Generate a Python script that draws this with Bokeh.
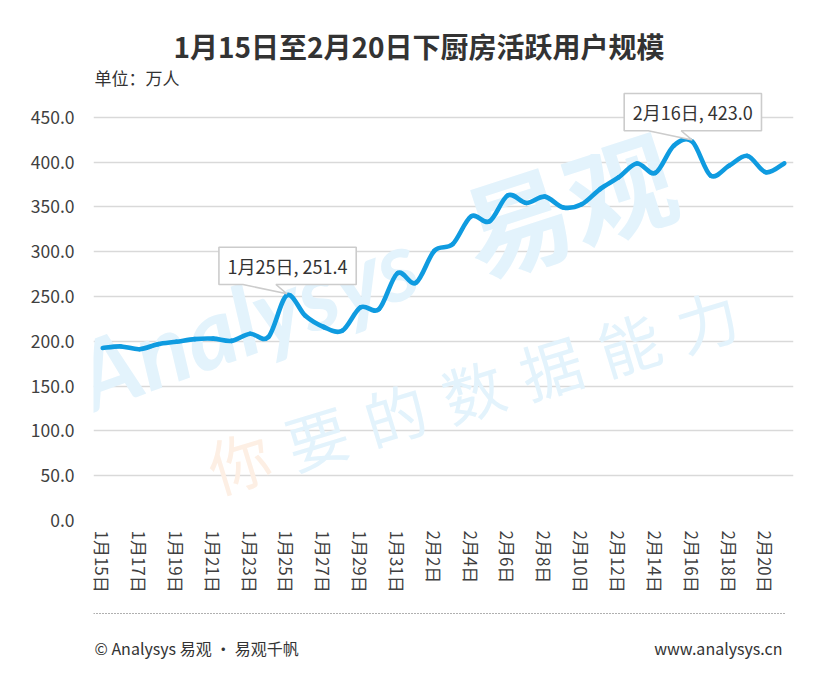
from bokeh.plotting import figure
from bokeh.layouts import column
from bokeh.models import Range1d, FixedTicker, PrintfTickFormatter, Label
from bokeh.core.properties import value
from bokeh.embed import file_html
from bokeh.resources import INLINE

# ---------------- data ----------------
dates = ["1月15日", "1月16日", "1月17日", "1月18日", "1月19日", "1月20日", "1月21日",
         "1月22日", "1月23日", "1月24日", "1月25日", "1月26日", "1月27日", "1月28日",
         "1月29日", "1月30日", "1月31日", "2月1日", "2月2日", "2月3日", "2月4日",
         "2月5日", "2月6日", "2月7日", "2月8日", "2月9日", "2月10日", "2月11日",
         "2月12日", "2月13日", "2月14日", "2月15日", "2月16日", "2月17日", "2月18日",
         "2月19日", "2月20日", "2月21日"]
users = [192.6, 194.3, 191.2, 196.8, 199.5, 202.5, 203.0, 200.5, 208.5, 205.0,
         251.4, 228.5, 216.0, 211.8, 238.0, 236.0, 276.0, 265.3, 301.0, 308.5,
         339.5, 334.0, 363.0, 354.5, 361.5, 349.5, 353.0, 370.0, 383.0, 398.5,
         388.0, 418.4, 423.0, 385.0, 396.0, 407.0, 388.7, 398.7]
y_ticks = [0, 50, 100, 150, 200, 250, 300, 350, 400, 450]
x_tick_step = 2
callout_idx = [10, 32]
title_text = "1月15日至2月20日下厨房活跃用户规模"
unit_text = "单位：万人"
footer_left = "© Analysys 易观 · 易观千帆"
footer_right = "www.analysys.cn"

# ---------------- layout ----------------
W = 819
HEAD_H, FOOT_H = 90, 55
ML, MR, MB = 93, 26, 85
FW, FH = W - ML - MR, 430
MAIN_H = FH + MB
n = len(users)
XR = (-0.5, n - 0.5)
YR = (0, 480)
kx = FW / (XR[1] - XR[0])
ky = FH / (YR[1] - YR[0])
# header/footer frames get aligned with the chart frame, so map their x range to page pixels
STRIP_X = (ML, W - MR)

CJK = "Noto Sans CJK SC"
LINE_COLOR = "#0f9be0"
TXT = "#404040"


def bare(fig):
    fig.outline_line_color = None
    fig.xgrid.grid_line_color = None
    fig.ygrid.grid_line_color = None
    fig.background_fill_color = "white"
    fig.border_fill_color = "white"
    return fig


# ---------------- header ----------------
head = bare(figure(width=W, height=HEAD_H, x_range=Range1d(*STRIP_X), y_range=Range1d(0, HEAD_H),
                   min_border=0, x_axis_location=None, y_axis_location=None,
                   output_backend="svg", toolbar_location=None))
head.text(x=[418.5], y=[HEAD_H - 45], text=[title_text], text_font=value(CJK),
          text_font_style="bold", text_font_size="28px", text_align="center",
          text_baseline="middle", text_color="#333333")
head.text(x=[STRIP_X[0] + 1], y=[HEAD_H - 77], text=[unit_text], text_font=value(CJK),
          text_font_size="17px", text_align="left", text_baseline="middle",
          text_color="#333333")

# ---------------- main chart ----------------
p = bare(figure(width=W, height=MAIN_H, x_range=Range1d(*XR), y_range=Range1d(*YR),
                min_border_left=ML, min_border_right=MR, min_border_top=0, min_border_bottom=MB,
                output_backend="svg", toolbar_location=None))

p.yaxis.ticker = FixedTicker(ticks=y_ticks)
p.yaxis.formatter = PrintfTickFormatter(format="%.1f")
p.yaxis.axis_line_color = None
p.yaxis.major_tick_line_color = None
p.yaxis.minor_tick_line_color = None
p.yaxis.major_tick_out = 0
p.yaxis.major_tick_in = 0
p.yaxis.major_label_standoff = 19
p.yaxis.major_label_text_font = CJK
p.yaxis.major_label_text_font_size = "17.5px"
p.yaxis.major_label_text_color = TXT

xt = list(range(0, n, x_tick_step))
p.xaxis.ticker = FixedTicker(ticks=xt)
p.xaxis.major_label_overrides = {i: dates[i] for i in xt}
p.xaxis.major_label_orientation = "vertical"
p.xaxis.axis_line_color = None
p.xaxis.major_tick_line_color = None
p.xaxis.minor_tick_line_color = None
p.xaxis.major_tick_out = 0
p.xaxis.major_tick_in = 0
p.xaxis.major_label_standoff = 10
p.xaxis.major_label_text_font = CJK
p.xaxis.major_label_text_font_size = "17px"
p.xaxis.major_label_text_color = TXT

p.ygrid.ticker = FixedTicker(ticks=y_ticks)
p.ygrid.grid_line_color = "#d9d9d9"
p.ygrid.grid_line_width = 1.6

# watermark (screen units are relative to the frame's bottom-left corner)
FRAME_X0, FRAME_Y0 = ML, HEAD_H + FH


def fx(ref_x):
    return ref_x - FRAME_X0


def fy(ref_y):
    return FRAME_Y0 - ref_y


wm_blue = "#e3f3fc"
p.add_layout(Label(x=fx(97), y=fy(432), x_units="screen", y_units="screen", text="Analysys",
                   angle=20, angle_units="deg", text_font="Lato", text_font_style="bold italic",
                   text_font_size="96px", text_color=wm_blue, level="underlay"))
p.add_layout(Label(x=fx(488), y=fy(308), x_units="screen", y_units="screen", text="易观",
                   angle=18, angle_units="deg", text_font=CJK, text_font_style="bold",
                   text_font_size="108px", text_color=wm_blue, level="underlay"))
slogan = "你要的数据能力"
for k, ch in enumerate(slogan):
    p.add_layout(Label(x=fx(238 + 78 * k), y=fy(459 - 23.5 * k), x_units="screen", y_units="screen",
                       text=ch, angle=17, angle_units="deg", text_font=CJK,
                       text_font_size="62px", text_align="center", text_baseline="middle",
                       text_color="#fdefe4" if k == 0 else wm_blue, level="underlay"))

# smoothed line (cubic Bezier segments through the data points)
xs = list(range(n))


def pt(i):
    i = max(0, min(n - 1, i))
    return xs[i], users[i]


bx0, by0, bx1, by1, bcx0, bcy0, bcx1, bcy1 = ([] for _ in range(8))
for i in range(n - 1):
    xa, ya = pt(i - 1)
    xb, yb = pt(i)
    xc, yc = pt(i + 1)
    xd, yd = pt(i + 2)
    bx0.append(xb); by0.append(yb); bx1.append(xc); by1.append(yc)
    bcx0.append(xb + (xc - xa) / 6); bcy0.append(yb + (yc - ya) / 6)
    bcx1.append(xc - (xd - xb) / 6); bcy1.append(yc - (yd - yb) / 6)

p.bezier(x0=bx0, y0=by0, x1=bx1, y1=by1, cx0=bcx0, cy0=bcy0, cx1=bcx1, cy1=bcy1,
         line_color=LINE_COLOR, line_width=4.6, line_cap="round")

# callouts
pxs, pys, tx, ty, tt = [], [], [], [], []
for i in callout_idx:
    tipx, tipy = xs[i], users[i] + 1.5 / ky
    L, R = xs[i] - 68 / kx, xs[i] + 69.3 / kx
    B = tipy + 9.3 / ky
    T = B + 37.3 / ky
    b1, b2 = xs[i] - 44 / kx, xs[i] - 11 / kx
    pxs.append([L, b1, tipx, b2, R, R, L])
    pys.append([B, B, tipy, B, B, T, T])
    tx.append((L + R) / 2); ty.append((B + T) / 2)
    tt.append(f"{dates[i]}, {users[i]:.1f}")

p.patches(pxs, pys, fill_color="white", line_color="#cccccc", line_width=1.6)
p.text(x=tx, y=ty, text=tt, text_font=value(CJK), text_font_size="18px",
       text_align="center", text_baseline="middle", text_color="#333333")

# ---------------- footer ----------------
foot = bare(figure(width=W, height=FOOT_H, x_range=Range1d(*STRIP_X), y_range=Range1d(0, FOOT_H),
                   min_border=0, x_axis_location=None, y_axis_location=None,
                   output_backend="svg", toolbar_location=None))
foot.segment(x0=[STRIP_X[0]], y0=[FOOT_H - 8], x1=[785], y1=[FOOT_H - 8],
             line_color="#606060", line_width=1.2, line_dash="1 2")
foot.text(x=[STRIP_X[0] + 1], y=[FOOT_H - 42], text=[footer_left], text_font=value(CJK),
          text_font_size="16px", text_align="left", text_baseline="middle", text_color="#333333")
foot.text(x=[782], y=[FOOT_H - 42], text=[footer_right], text_font=value(CJK),
          text_font_size="16px", text_align="right", text_baseline="middle", text_color="#333333")

layout = column(head, p, foot, spacing=0)

open("out.html", "w").write(file_html(layout, INLINE))
